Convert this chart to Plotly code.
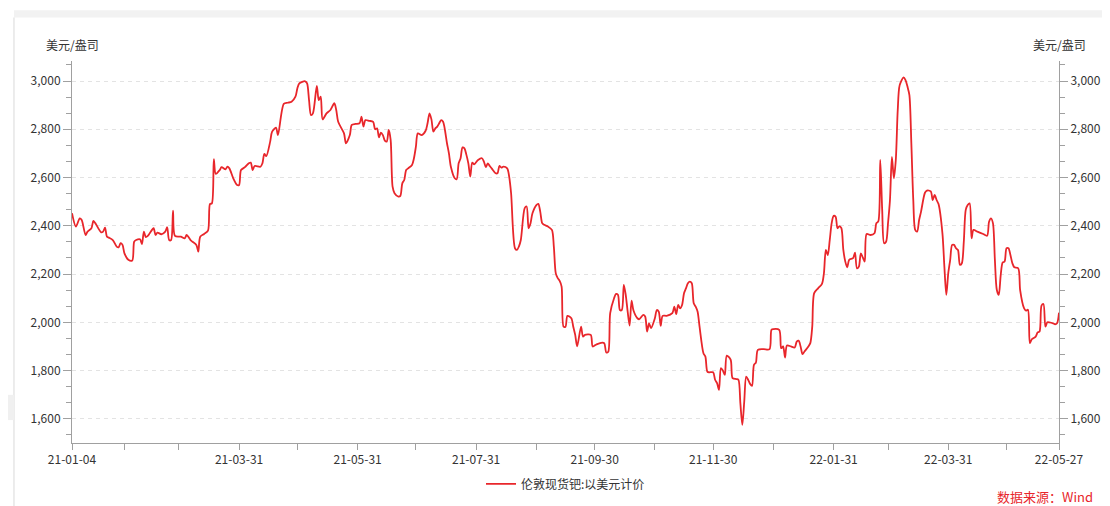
import pandas as pd
import plotly.graph_objects as go

start_date = "2021-01-04"
end_date = "2022-05-27"

# trading-day offsets (days since 2021-01-04) and London spot palladium (USD/oz)
day_offsets = [
    0, 2, 4, 5, 7, 8, 10, 11, 12, 15, 16, 17, 18, 19, 21, 23, 24, 25, 26, 27,
    29, 31, 32, 33, 35, 36, 37, 38, 39, 40, 42, 43, 44, 46, 48, 49, 50, 51, 52, 53,
    56, 58, 59, 61, 62, 64, 65, 66, 68, 70, 71, 72, 73, 74, 76, 77, 79, 80, 81, 83,
    85, 86, 87, 89, 91, 92, 93, 94, 97, 98, 99, 100, 102, 103, 105, 106, 109, 111, 113, 115,
    116, 117, 120, 121, 122, 123, 124, 126, 127, 128, 129, 131, 133, 135, 136, 137, 140, 141, 143, 144,
    146, 148, 149, 150, 151, 153, 155, 156, 157, 158, 159, 160, 161, 162, 163, 164, 165, 166, 168, 169,
    170, 171, 172, 173, 175, 176, 177, 178, 180, 182, 183, 184, 185, 186, 187, 188, 189, 190, 191, 193,
    194, 195, 197, 198, 199, 200, 201, 202, 203, 204, 205, 206, 207, 209, 211, 212, 213, 214, 215, 216,
    218, 219, 220, 221, 222, 224, 225, 226, 228, 229, 230, 231, 233, 234, 235, 236, 237, 239, 240, 241,
    242, 243, 245, 247, 248, 249, 250, 251, 252, 253, 254, 255, 257, 258, 259, 260, 262, 263, 264, 267,
    268, 270, 273, 274, 275, 276, 277, 279, 280, 281, 282, 283, 284, 285, 286, 287, 288, 289, 291, 292,
    294, 295, 296, 297, 298, 300, 301, 302, 303, 304, 306, 309, 310, 311, 312, 313, 314, 315, 316, 317,
    318, 319, 320, 321, 322, 323, 325, 326, 327, 328, 330, 331, 332, 333, 334, 335, 336, 337, 339, 340,
    342, 343, 344, 345, 346, 347, 348, 349, 350, 351, 352, 353, 356, 359, 360, 361, 364, 365, 366, 367,
    368, 370, 372, 373, 374, 375, 376, 377, 379, 380, 381, 382, 384, 386, 387, 388, 389, 390, 391, 392,
    393, 394, 395, 396, 397, 398, 399, 400, 402, 403, 404, 405, 406, 407, 408, 409, 411, 413, 414, 415,
    416, 417, 418, 419, 420, 421, 422, 423, 424, 425, 426, 428, 429, 430, 431, 432, 433, 434, 435, 436,
    437, 439, 440, 442, 443, 444, 445, 446, 448, 449, 450, 451, 452, 453, 454, 455, 456, 457, 458, 459,
    460, 461, 462, 463, 464, 466, 469, 471, 472, 473, 474, 475, 476, 477, 478, 479, 480, 481, 482, 483,
    484, 485, 487, 488, 490, 491, 492, 493, 494, 496, 497, 498, 499, 500, 501, 502, 503, 505, 506, 507,
    508,
]
prices = [
    2452, 2397, 2431, 2424, 2362, 2376, 2390, 2420, 2411, 2373, 2376, 2392, 2355, 2351, 2341, 2314, 2311, 2328, 2321, 2286,
    2259, 2256, 2334, 2341, 2344, 2324, 2376, 2353, 2358, 2369, 2390, 2362, 2372, 2365, 2376, 2394, 2341, 2341, 2463, 2358,
    2355, 2348, 2362, 2341, 2334, 2321, 2293, 2355, 2366, 2380, 2490, 2493, 2676, 2615, 2631, 2643, 2634, 2645, 2638, 2597,
    2569, 2569, 2631, 2643, 2659, 2662, 2631, 2648, 2645, 2659, 2698, 2689, 2749, 2790, 2807, 2776, 2905, 2910, 2914, 2935,
    2970, 2990, 2999, 2990, 2921, 2859, 2866, 2980, 2921, 2935, 2841, 2866, 2880, 2908, 2880, 2831, 2783, 2742, 2776, 2818,
    2822, 2825, 2852, 2811, 2838, 2835, 2831, 2800, 2804, 2767, 2786, 2776, 2753, 2749, 2797, 2756, 2562, 2535, 2521, 2524,
    2576, 2590, 2631, 2638, 2652, 2680, 2728, 2783, 2776, 2794, 2825, 2866, 2841, 2790, 2804, 2811, 2825, 2838, 2831, 2742,
    2700, 2645, 2597, 2593, 2659, 2680, 2725, 2721, 2694, 2659, 2604, 2662, 2655, 2673, 2680, 2666, 2643, 2659, 2648, 2638,
    2618, 2618, 2648, 2641, 2645, 2638, 2604, 2535, 2307, 2300, 2314, 2341, 2473, 2480, 2390, 2411, 2452, 2486, 2491, 2459,
    2411, 2404, 2397, 2383, 2314, 2203, 2183, 2172, 2148, 1982, 1982, 2027, 2017, 1982, 1948, 1900, 1982, 1941, 1948, 1948,
    1900, 1909, 1916, 1913, 1875, 1878, 2038, 2100, 2118, 2114, 2051, 2051, 2155, 2114, 2044, 1987, 2090, 2049, 2017, 2013,
    2031, 2024, 1962, 1996, 1976, 2017, 2051, 2044, 1985, 2027, 2027, 2038, 2065, 2034, 2072, 2058, 2072, 2121, 2141, 2162,
    2169, 2162, 2079, 2065, 2044, 1982, 1872, 1858, 1796, 1793, 1793, 1762, 1748, 1720, 1810, 1800, 1782, 1862, 1845, 1769,
    1765, 1762, 1665, 1575, 1672, 1775, 1762, 1745, 1737, 1824, 1833, 1886, 1889, 1889, 1969, 1972, 1969, 1893, 1900, 1854,
    1904, 1900, 1896, 1920, 1924, 1900, 1868, 1879, 1900, 1914, 1982, 2121, 2141, 2159, 2203, 2300, 2279, 2341, 2411, 2441,
    2438, 2390, 2399, 2390, 2300, 2252, 2228, 2259, 2266, 2289, 2224, 2231, 2286, 2269, 2252, 2366, 2362, 2369, 2411, 2418,
    2673, 2466, 2328, 2334, 2411, 2507, 2686, 2597, 2673, 2880, 2983, 3015, 3004, 2977, 2942, 2742, 2507, 2383, 2376, 2424,
    2459, 2537, 2546, 2543, 2507, 2528, 2507, 2490, 2369, 2231, 2114, 2203, 2259, 2321, 2321, 2307, 2300, 2238, 2245, 2334,
    2466, 2486, 2493, 2348, 2383, 2376, 2366, 2359, 2417, 2431, 2411, 2259, 2134, 2114, 2196, 2248, 2252, 2307, 2307, 2279,
    2245, 2228, 2224, 2134, 2059, 2049, 2052, 1914, 1930, 1941, 1958, 1962, 2069, 2076, 1982, 2000, 2000, 1996, 1992, 1996,
    2040,
]

series_name = "伦敦现货钯:以美元计价"
unit_label = "美元/盎司"
source_text = "数据来源：Wind"

x_tick_dates = ["2021-01-04", "2021-03-31", "2021-05-31", "2021-07-31", "2021-09-30",
                "2021-11-30", "2022-01-31", "2022-03-31", "2022-05-27"]
x_tick_labels = ["21-01-04", "21-03-31", "21-05-31", "21-07-31", "21-09-30",
                 "21-11-30", "22-01-31", "22-03-31", "22-05-27"]
x_minor_dates = ["2021-01-31", "2021-02-28", "2021-04-30", "2021-06-30", "2021-08-31",
                 "2021-10-31", "2021-12-31", "2022-02-28", "2022-04-30"]
y_tick_vals = [1600, 1800, 2000, 2200, 2400, 2600, 2800, 3000]
y_range = [1500, 3083]

dates = pd.Timestamp(start_date) + pd.to_timedelta(day_offsets, unit="D")

RED = "#e8262b"
AXIS = "#a0a0a0"
FONT = "Noto Sans CJK SC"
TXT = "#333333"

fig = go.Figure()
fig.add_trace(go.Scatter(
    x=dates, y=prices, mode="lines", name=series_name,
    line=dict(color=RED, width=1.8, shape="spline", smoothing=0.8),
    yaxis="y",
))
# same series on the right-hand axis (transparent) so that axis is drawn
fig.add_trace(go.Scatter(
    x=dates, y=prices, mode="lines", showlegend=False, hoverinfo="skip",
    line=dict(color="rgba(0,0,0,0)", width=0), yaxis="y2",
))

yaxis_common = dict(
    range=y_range, tickvals=y_tick_vals, tickformat=",d",
    showline=True, linecolor=AXIS, linewidth=1,
    ticks="outside", ticklen=8, tickcolor=AXIS,
    tickfont=dict(size=12, color=TXT, family=FONT),
    minor=dict(dtick=200 / 3, tick0=0, ticks="outside", ticklen=5, tickcolor=AXIS, showgrid=False),
    zeroline=False, fixedrange=True, automargin=False,
)

fig.update_layout(
    width=1094, height=506,
    margin=dict(l=64, r=43, t=53, b=71, autoexpand=False),
    paper_bgcolor="white", plot_bgcolor="white",
    font=dict(family=FONT, size=12, color=TXT),
    xaxis=dict(
        type="date", range=[start_date, end_date],
        tickvals=x_tick_dates, ticktext=x_tick_labels,
        showline=True, linecolor=AXIS, linewidth=1,
        ticks="outside", ticklen=6, tickcolor=AXIS,
        minor=dict(tickvals=x_minor_dates, ticks="outside", ticklen=6, tickcolor=AXIS, showgrid=False),
        showgrid=False, zeroline=False, automargin=False,
        tickfont=dict(size=12, color=TXT, family=FONT),
    ),
    yaxis=dict(**yaxis_common, showgrid=True, gridcolor="#e3e3e3", griddash="4px,4px", gridwidth=1),
    yaxis2=dict(**yaxis_common, overlaying="y", side="right", showgrid=False, anchor="x"),
    showlegend=True,
    legend=dict(orientation="h", x=0.5, xanchor="center", y=-0.107, yanchor="middle",
                itemwidth=30,
                font=dict(size=12, color=TXT, family=FONT), bgcolor="rgba(0,0,0,0)"),
    annotations=[
        dict(text=unit_label, xref="paper", yref="paper", x=0.0, y=1.042,
             xanchor="center", yanchor="middle", showarrow=False,
             font=dict(size=12, color=TXT, family=FONT)),
        dict(text=unit_label, xref="paper", yref="paper", x=1.0, y=1.042,
             xanchor="center", yanchor="middle", showarrow=False,
             font=dict(size=12, color=TXT, family=FONT)),
        dict(text=source_text, xref="paper", yref="paper", x=1.0365, y=-0.141,
             xanchor="right", yanchor="middle", showarrow=False,
             font=dict(size=13, color=RED, family=FONT)),
    ],
    shapes=[
        dict(type="rect", xref="paper", yref="paper", x0=-0.0588, x1=1.05, y0=1.114, y1=1.133,
             fillcolor="#f2f2f2", line=dict(width=0), layer="below"),
        dict(type="line", xref="paper", yref="paper", x0=-0.0588, x1=-0.0588, y0=-0.2, y1=1.114,
             line=dict(color="#e6e6e6", width=1.5), layer="below"),
        dict(type="rect", xref="paper", yref="paper", x0=-0.0648, x1=-0.0588, y0=0.06, y1=0.126,
             fillcolor="#f0f0f0", line=dict(width=0), layer="below"),
    ],
)

fig.write_html("out.html")
